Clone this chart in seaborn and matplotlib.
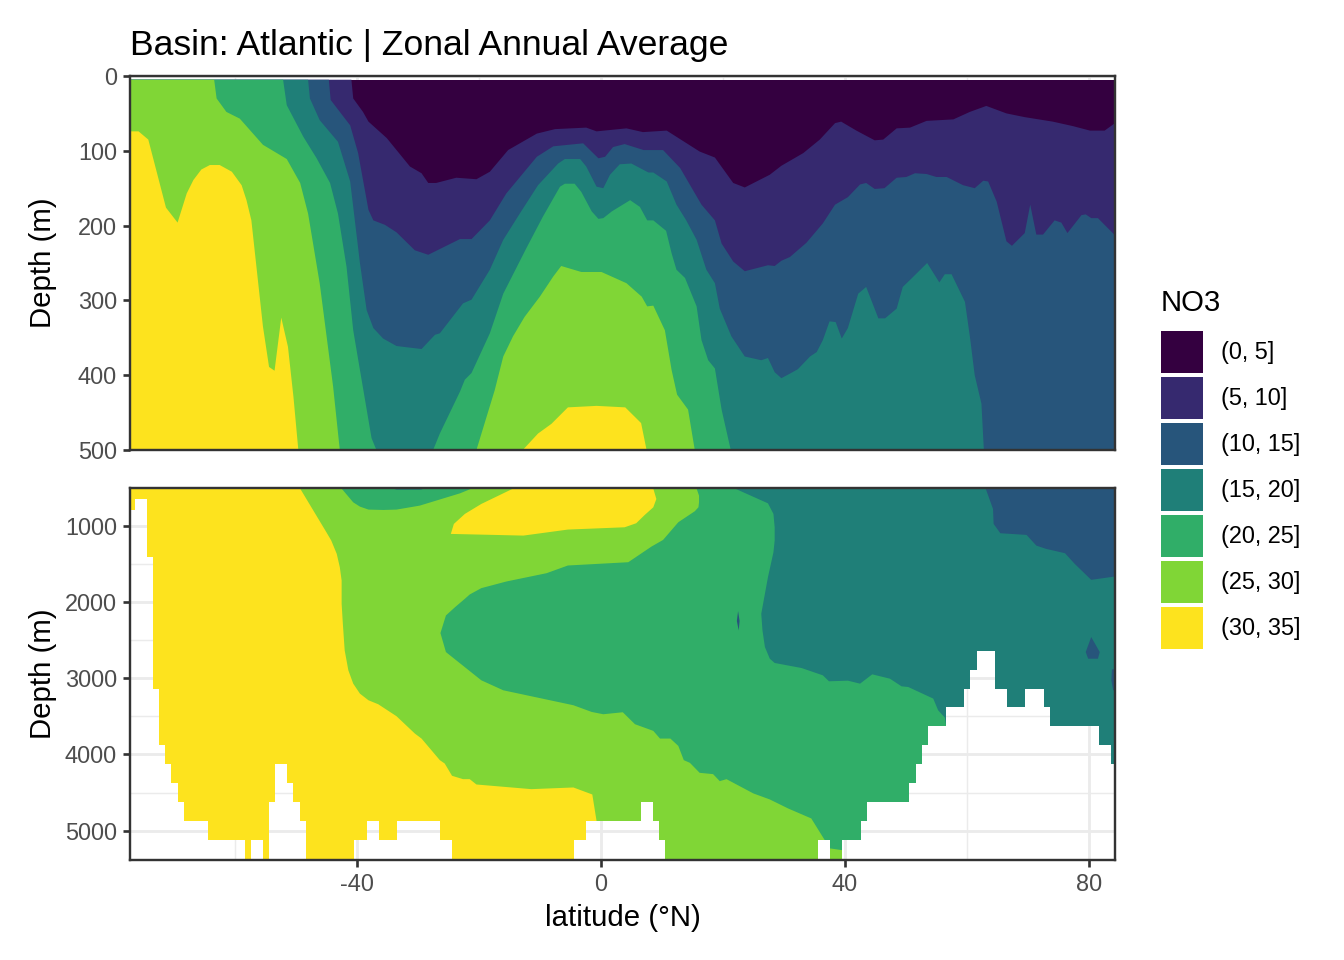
#!/bin/python
import matplotlib
matplotlib.use("Agg")
import matplotlib.pyplot as plt
import seaborn as sns
from matplotlib.patches import Patch, Polygon

# Some base vars
levels = ["(0, 5]", "(5, 10]", "(10, 15]", "(15, 20]", "(20, 25]", "(25, 30]", "(30, 35]"]
colors = ["#340040", "#36296F", "#27557B", "#1F7F78", "#30AE68", "#80D636", "#FDE31E"]
lat_min, lat_max = -77.2, 84.3
fill_top, top_bottom = 5, 500
deep_top, deep_bottom = 515, 5384

# Upper panel, depth of each NO3 contour
c5_lat = [-40.9, -40.6, -39, -38.1, -35.1, -31.3, -29.4, -28.3, -27, -23.7, -20.4, -18.2, -15.2, -10.5, -7.5, -2.4, -0.7, 4.2, 6.9, 10.8, 16.2, 18.7, 21.7, 23.6, 27.7, 29.6, 33.2, 35.9, 38.4, 39.4, 41.9, 44.9, 46.3, 48.5, 50.7, 53.4, 57.8, 60.5, 63.2, 66.5, 69.5, 74.1, 77.4, 80.2, 82.6, 84.3]
c5_depth = [5, 30, 48, 61, 83, 121, 130, 143, 143, 136, 138, 128, 99, 77, 71, 69, 74, 70, 75, 73, 101, 109, 143, 149, 132, 120, 103, 85, 63, 61, 73, 86, 85, 70, 69, 60, 58, 48, 40, 50, 55, 61, 67, 73, 73, 63]

c10_lat = [-44.6, -44.3, -41.1, -39.8, -38.1, -37.3, -35.4, -33.5, -30.5, -28.3, -23.1, -21.2, -18.2, -15.5, -10.5, -7.8, -2.9, -0.4, 0.7, 2, 3.9, 7, 10.2, 13, 16.5, 18.7, 19.8, 21.7, 23.6, 27.4, 28.5, 29.6, 31, 33.7, 36.4, 38.4, 40.5, 42.5, 43.5, 44.9, 46.5, 48.5, 50.1, 51.5, 53.4, 55, 56.7, 59.4, 61.3, 62.7, 63.5, 64.9, 66.5, 67.4, 69.5, 70.4, 71.4, 72.5, 74.4, 75.5, 76.5, 78.8, 79.5, 80.4, 81.5, 84.3]
c10_depth = [5, 32, 66, 103, 179, 193, 199, 209, 233, 239, 218, 218, 193, 157, 108, 94, 90, 110, 108, 95, 91, 99, 99, 123, 172, 193, 224, 248, 261, 253, 254, 247, 242, 223, 197, 172, 162, 145, 143, 151, 150, 136, 135, 130, 131, 135, 135, 146, 150, 140, 141, 168, 221, 227, 210, 172, 212, 212, 193, 196, 210, 186, 185, 190, 190, 213]

c15_lat = [-48, -47.7, -46.1, -43.1, -41.1, -39.5, -38.4, -37.3, -35.7, -33.5, -29.4, -27.2, -26.4, -22.6, -21.2, -18.2, -16, -13.3, -10.3, -7, -5.9, -3.4, -2.4, -0.7, 0.4, 1.5, 3.1, 5, 7.8, 8.6, 10.8, 12.4, 14, 15.7, 17.3, 18.7, 19.5, 21.4, 23.6, 26.3, 27.4, 28.5, 29.6, 31.2, 32.3, 34.3, 35.4, 36.4, 37.5, 38.5, 39.5, 40.5, 42.2, 43.5, 45.5, 46.6, 48.5, 49.5, 50.9, 53.5, 55.5, 56.4, 57.5, 59.7, 60.5, 61.3, 62.4, 62.8]
c15_depth = [5, 30, 59, 88, 141, 250, 313, 337, 351, 361, 365, 346, 344, 304, 299, 259, 219, 184, 146, 117, 111, 111, 121, 148, 150, 132, 118, 117, 129, 129, 141, 172, 193, 219, 259, 277, 311, 348, 375, 380, 377, 396, 404, 397, 392, 375, 369, 353, 328, 329, 351, 337, 291, 282, 324, 324, 311, 282, 271, 250, 276, 265, 265, 302, 348, 400, 438, 500]

c20_west_lat = [-52.1, -51.5, -48.8, -46.6, -44.4, -43.1, -41.7, -40.6, -39.5, -38.1, -37.6, -36.8]
c20_west_depth = [5, 39, 81, 110, 143, 184, 255, 340, 393, 460, 484, 500]
c20_dome_lat = [-27.5, -26.4, -23.1, -22.3, -21.2, -18.2, -16, -12.2, -9.5, -6.7, -5.9, -4.3, -3.2, -1.5, -0.4, 0.4, 1.8, 4.8, 6.4, 7.6, 8.6, 10.7, 11.6, 12.4, 13.8, 15.7, 16.5, 17.6, 18.7, 19.8, 21.3]
c20_dome_depth = [500, 478, 422, 406, 397, 344, 291, 230, 188, 148, 144, 144, 155, 181, 191, 190, 181, 166, 175, 193, 193, 207, 237, 259, 270, 308, 353, 380, 391, 446, 500]

c25_west_lat = [-63.4, -63, -61.4, -59.2, -55.4, -51.5, -49.3, -48, -46.1, -43.9, -42.8]
c25_west_depth = [5, 30, 48, 57, 92, 111, 143, 184, 277, 415, 500]
c25_dome_lat = [-20.4, -17.4, -16, -14.4, -12.5, -10, -7.8, -6.5, -3.2, 0.1, 4.2, 6.7, 7.6, 8.6, 10.5, 11.6, 12.5, 14.3, 15.4]
c25_dome_depth = [500, 420, 375, 348, 322, 295, 268, 254, 262, 262, 277, 295, 308, 307, 340, 393, 426, 446, 500]

c30_west_lat = [-77.2, -75.8, -74.2, -71.3, -69.4, -67.9, -66.8, -65.5, -64.1, -62.5, -60.5, -58.9, -58.1, -57.3, -55.4, -54.4, -53.5, -52.4, -51.3, -50.4, -49.6]
c30_west_depth = [74, 74, 85, 176, 196, 157, 139, 125, 119, 119, 128, 146, 166, 193, 335, 389, 394, 323, 362, 429, 500]
c30_dome_lat = [-12.8, -10.3, -8.1, -5.4, -0.7, 4, 6.6, 7.5]
c30_dome_depth = [500, 478, 465, 443, 441, 443, 464, 500]

# Lower panel, sea floor columns (edges and floor depth)
floor_edges = [-77.2, -76.4, -74.4, -73.4, -72.4, -71.4, -70.4, -69.4, -68.4, -64.4, -58.4, -57.4, -55.4, -54.4, -53.4, -51.4, -50.4, -49.4, -48.4, -40.4, -38.4, -36.4, -33.4, -26.4, -24.4, -4.4, -2.4, 6.6, 8.6, 9.6, 10.6, 35.6, 37.6, 39.6, 42.6, 43.6, 50.6, 51.6, 52.6, 53.6, 56.6, 59.6, 60.6, 61.6, 64.6, 66.6, 69.6, 72.6, 73.6, 81.6, 83.6, 84.3]
floor_depth = [791, 651, 1406, 3137, 3879, 4128, 4376, 4625, 4873, 5122, 5375, 5122, 5375, 4625, 4128, 4376, 4625, 4873, 5375, 5122, 4873, 5122, 4873, 5122, 5375, 5122, 4873, 4625, 4873, 5122, 5375, 5122, 5375, 5122, 4873, 4625, 4376, 4128, 3879, 3630, 3382, 3137, 2889, 2649, 3137, 3382, 3137, 3382, 3630, 3879, 4128]

# Lower panel contours
deep_lime_lat = [-49.3, -45, -44.2, -43.3, -42.8, -42.5, -42.5, -42.3, -42, -41.4, -40.6, -39.5, -38.1, -36.5, -33.5, -30.5, -29.4, -26.4, -25.6, -24.4, -22.6, -21.5, -20.4, -11.4, -4.5, -1.4, -0.7, -0.4]
deep_lime_depth = [515, 1087, 1196, 1371, 1545, 1720, 2025, 2287, 2636, 2897, 3072, 3203, 3290, 3342, 3499, 3726, 3792, 4075, 4119, 4280, 4324, 4324, 4394, 4455, 4433, 4525, 4873, 5384]

deep_island_lat = [-14.4, -19.6, -22.3, -24.1, -24.6, -12.7, -5.4, 3.9, 5.8, 7.2, 8.6, 9.1, 8.6]
deep_island_depth = [515, 716, 847, 978, 1109, 1131, 1052, 1022, 969, 860, 760, 651, 515]

deep_blob_lat = [-42.5, -40.6, -39.5, -38.1, -35.7, -33.5, -29.7, -23.1, -21.2]
deep_blob_depth = [515, 695, 751, 790, 795, 790, 738, 577, 515]

green_upper_lat = [-26.3, -25.4, -23.9, -22.3, -21.5, -19.6, -15.5, -8.9, -5.4, 4.5, 8.3, 10.2, 12.7, 15.4, 16, 16.1, 16.1, 15.7]
green_upper_depth = [2409, 2178, 2069, 1960, 1903, 1820, 1733, 1624, 1523, 1480, 1275, 1188, 956, 812, 760, 695, 607, 515]
green_lower_lat = [40, 39.4, 37.5, 36.7, 34.5, 30.7, 27.7, 25, 20.6, 19.5, 18.4, 16.2, 14.6, 13.6, 12.7, 11.4, 9.7, 8.6, 5.6, 3.6, 0.4, -1.5, -4.5, -16, -19.6, -25.4]
green_lower_depth = [5260, 5253, 5231, 5122, 4839, 4708, 4590, 4511, 4324, 4350, 4258, 4241, 4110, 4075, 3888, 3792, 3792, 3691, 3604, 3447, 3473, 3443, 3355, 3159, 3028, 2658]

teal_lat = [22, 27.4, 28.3, 28.5, 28.5, 28.3, 27.4, 26.3, 26.5, 26.9, 27.7, 28.5, 32.9, 36.4, 37.4, 40.5, 42.5, 44.5, 47.4, 49.3, 50.4, 54.5, 55.3, 56.4, 60]
teal_depth = [515, 708, 847, 1022, 1196, 1349, 1676, 2156, 2374, 2592, 2745, 2801, 2867, 2963, 3041, 3033, 3072, 2950, 3007, 3107, 3116, 3268, 3421, 3517, 5384]
teal_blob_lat = [-34, -29, -29.5, -33.5]
teal_blob_depth = [515, 515, 530, 530]

blue_lat = [63.1, 64.3, 64.4, 65.5, 69.8, 71.4, 73, 76.1, 77.7, 80.4, 84.3]
blue_depth = [515, 782, 978, 1100, 1122, 1262, 1305, 1362, 1502, 1711, 1667]
blue_drop_lat = [80.4, 81.8, 81.5, 79.9, 79.5]
blue_drop_depth = [2461, 2658, 2745, 2745, 2658]
blue_edge_lat = [83.8, 84.3, 84.3, 84, 83.7]
blue_edge_depth = [2884, 2884, 3159, 3159, 3028]
blue_sliver_lat = [22.5, 22.75, 22.6, 22.3]
blue_sliver_depth = [2121, 2250, 2374, 2250]

sns.set_theme(style="white")
plt.rcParams['font.family'] = ['Liberation Sans', 'DejaVu Sans']
plt.rcParams['axes.unicode_minus'] = False
plt.rcParams['text.color'] = 'black'


def fill_region(ax, lats, depths, color, corners=(), clip=None):
    xs = list(lats) + [c[0] for c in corners]
    ys = list(depths) + [c[1] for c in corners]
    poly = ax.fill(xs, ys, color=color, lw=0, zorder=2)[0]
    if clip is not None:
        poly.set_clip_path(clip)


def style_axes(ax, yticks, yminor):
    ax.set_xlim(lat_min, lat_max)
    ax.set_xticks([-40, 0, 40, 80])
    ax.set_xticks([-60, -20, 20, 60], minor=True)
    ax.set_yticks(yticks)
    ax.set_yticks(yminor, minor=True)
    ax.grid(True, which="major", color="#EBEBEB", lw=1.07, zorder=0)
    ax.grid(True, which="minor", color="#EBEBEB", lw=0.53, zorder=0)
    ax.set_axisbelow(True)
    for side in ax.spines.values():
        side.set_color("#333333")
        side.set_linewidth(0.9)
        side.set_zorder(5)
    ax.tick_params(axis="both", which="major", bottom=True, left=True, length=2.75, width=1.0,
                   color="#333333", labelsize=8.8, labelcolor="#4D4D4D", pad=2.2)
    ax.tick_params(axis="both", which="minor", length=0)
    ax.set_ylabel("Depth (m)", fontsize=11, color="black")
    ax.yaxis.set_label_coords((57 - 130) / 985, 0.5)


fig = plt.figure(figsize=(7, 5), dpi=192)
ax_top = fig.add_axes([130 / 1344, 1 - 450 / 960, 985 / 1344, 374 / 960])
ax_deep = fig.add_axes([130 / 1344, 1 - 860 / 960, 985 / 1344, 372 / 960])

# Upper panel, painted from shallow to deep water
west_corners = [(lat_min, top_bottom), (lat_min, fill_top)]
east_corners = [(lat_max, top_bottom)] + west_corners
fill_region(ax_top, [lat_min, lat_max], [fill_top, fill_top], colors[0],
            [(lat_max, top_bottom), (lat_min, top_bottom)])
fill_region(ax_top, c5_lat, c5_depth, colors[1], east_corners)
fill_region(ax_top, c10_lat, c10_depth, colors[2], east_corners)
fill_region(ax_top, c15_lat, c15_depth, colors[3], west_corners)
fill_region(ax_top, c20_west_lat, c20_west_depth, colors[4], west_corners)
fill_region(ax_top, c20_dome_lat, c20_dome_depth, colors[4])
fill_region(ax_top, c25_west_lat, c25_west_depth, colors[5], west_corners)
fill_region(ax_top, c25_dome_lat, c25_dome_depth, colors[5])
fill_region(ax_top, c30_west_lat, c30_west_depth, colors[6], [(lat_min, top_bottom)])
fill_region(ax_top, c30_dome_lat, c30_dome_depth, colors[6])

ax_top.set_ylim(top_bottom, 0)
style_axes(ax_top, [0, 100, 200, 300, 400, 500], [50, 150, 250, 350, 450])
ax_top.tick_params(axis="x", which="both", bottom=False, length=0, labelbottom=False)
ax_top.set_title("Basin: Atlantic | Zonal Annual Average", loc="left", fontsize=13.3, color="black", pad=8)

# Lower panel, everything clipped to the sea floor columns
ocean_xy = [(lat_min, deep_top)]
for i, d in enumerate(floor_depth):
    ocean_xy += [(floor_edges[i], d), (floor_edges[i + 1], d)]
ocean_xy.append((lat_max, deep_top))
ocean = Polygon(ocean_xy, closed=True, fc="none", ec="none", transform=ax_deep.transData)
ax_deep.add_patch(ocean)

fill_region(ax_deep, [lat_min, lat_max], [deep_top, deep_top], colors[6],
            [(lat_max, deep_bottom), (lat_min, deep_bottom)], clip=ocean)
fill_region(ax_deep, deep_lime_lat, deep_lime_depth, colors[5],
            [(lat_max, deep_bottom), (lat_max, deep_top)], clip=ocean)
fill_region(ax_deep, deep_island_lat, deep_island_depth, colors[6], clip=ocean)
fill_region(ax_deep, deep_blob_lat, deep_blob_depth, colors[4], clip=ocean)
fill_region(ax_deep, teal_blob_lat, teal_blob_depth, colors[3], clip=ocean)
fill_region(ax_deep, green_upper_lat, green_upper_depth, colors[4],
            [(lat_max, deep_top), (lat_max, deep_bottom), (40, deep_bottom)]
            + list(zip(green_lower_lat, green_lower_depth)), clip=ocean)
fill_region(ax_deep, teal_lat, teal_depth, colors[3],
            [(lat_max, deep_bottom), (lat_max, deep_top)], clip=ocean)
fill_region(ax_deep, blue_lat, blue_depth, colors[2], [(lat_max, deep_top)], clip=ocean)
fill_region(ax_deep, blue_drop_lat, blue_drop_depth, colors[2], clip=ocean)
fill_region(ax_deep, blue_edge_lat, blue_edge_depth, colors[2], clip=ocean)
fill_region(ax_deep, blue_sliver_lat, blue_sliver_depth, colors[2], clip=ocean)

ax_deep.set_ylim(deep_bottom, 507)
style_axes(ax_deep, [1000, 2000, 3000, 4000, 5000], [1500, 2500, 3500, 4500])
ax_deep.set_xlabel("latitude (°N)", fontsize=11, color="black", labelpad=3)

handles = [Patch(facecolor=c, edgecolor="none", label=l) for c, l in zip(colors, levels)]
leg = fig.legend(handles=handles, title="NO3", loc="upper left", bbox_to_anchor=(1161 / 1344, 1 - 289 / 960),
                 frameon=False, fontsize=8.8, title_fontsize=11, borderpad=0, borderaxespad=0,
                 handlelength=1.79, handleheight=2.38, labelspacing=0.165, handletextpad=0.77,
                 labelcolor="black")
leg._legend_box.align = "left"
leg._legend_box.sep = 5.3

plt.savefig("out.png", dpi=192)
